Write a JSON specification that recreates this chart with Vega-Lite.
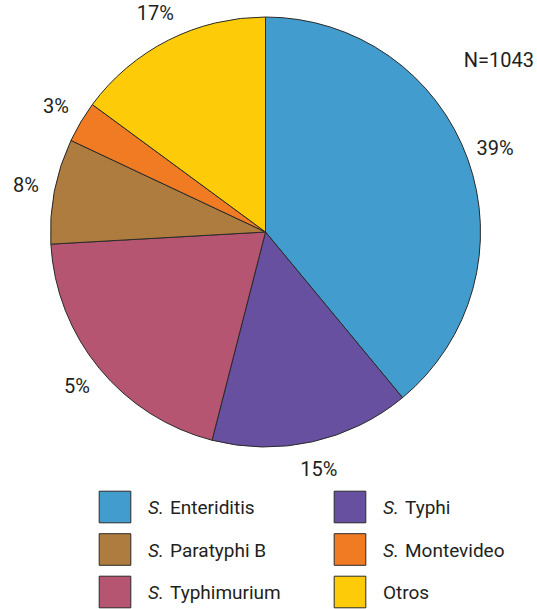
{
  "$schema": "https://vega.github.io/schema/vega-lite/v6.json",
  "padding": 0,
  "background": "white",
  "config": {
    "view": {"stroke": null},
    "font": "Roboto"
  },
  "datasets": {
    "slices": [
      {"cat": "S. Enteriditis", "pre": "S.", "name": "Enteriditis", "value": 39, "label": "39%", "order": 1},
      {"cat": "S. Typhi", "pre": "S.", "name": "Typhi", "value": 15, "label": "15%", "order": 2},
      {"cat": "S. Typhimurium", "pre": "S.", "name": "Typhimurium", "value": 20.1, "label": "5%", "order": 3},
      {"cat": "S. Paratyphi B", "pre": "S.", "name": "Paratyphi B", "value": 7.9, "label": "8%", "order": 4},
      {"cat": "S. Montevideo", "pre": "S.", "name": "Montevideo", "value": 3.1, "label": "3%", "order": 5},
      {"cat": "Otros", "pre": "", "name": "Otros", "value": 14.9, "label": "17%", "order": 6}
    ],
    "legend": [
      {"cat": "S. Enteriditis", "pre": "S.", "name": "Enteriditis", "lorder": 1},
      {"cat": "S. Typhi", "pre": "S.", "name": "Typhi", "lorder": 2},
      {"cat": "S. Paratyphi B", "pre": "S.", "name": "Paratyphi B", "lorder": 3},
      {"cat": "S. Montevideo", "pre": "S.", "name": "Montevideo", "lorder": 4},
      {"cat": "S. Typhimurium", "pre": "S.", "name": "Typhimurium", "lorder": 5},
      {"cat": "Otros", "pre": "", "name": "Otros", "lorder": 6}
    ]
  },
  "bounds": "flush",
  "spacing": 21.75,
  "vconcat": [
    {
      "width": 531,
      "height": 464,
      "title": {"text": "N=1043", "anchor": "end", "orient": "top", "fontSize": 20, "fontWeight": "normal", "font": "Roboto", "color": "#231F20", "baseline": "alphabetic", "offset": 0, "dy": 87, "dx": 3},
      "data": {"name": "slices"},
      "encoding": {
        "theta": {"field": "value", "type": "quantitative", "stack": true},
        "order": {"field": "order", "type": "quantitative"}
      },
      "layer": [
        {
          "mark": {"type": "arc", "outerRadius": 215, "stroke": "#2a2a2a", "strokeWidth": 1},
          "encoding": {
            "color": {"field": "cat", "type": "nominal", "legend": null,
              "scale": {"domain": ["S. Enteriditis", "S. Typhi", "S. Typhimurium", "S. Paratyphi B", "S. Montevideo", "Otros"],
                        "range": ["#429CCD", "#6750A0", "#B55571", "#AE7C3E", "#F07B22", "#FECB08"]}}
          }
        },
        {
          "mark": {"type": "text", "radius": 244, "fontSize": 20, "font": "Roboto", "color": "#231F20"},
          "encoding": {"text": {"field": "label"}}
        }
      ]
    },
    {
      "data": {"name": "legend"},
      "width": 465,
      "height": 127.5,
      "transform": [
        {"calculate": "(datum.lorder - 1) % 2", "as": "col"},
        {"calculate": "floor((datum.lorder - 1) / 2)", "as": "row"}
      ],
      "encoding": {
        "x": {"field": "col", "type": "ordinal", "axis": null, "scale": {"type": "point", "padding": 0.4894}},
        "y": {"field": "row", "type": "ordinal", "axis": null, "scale": {"type": "point", "padding": 0.5}}
      },
      "layer": [
        {
          "mark": {"type": "point", "shape": "square", "size": 1000, "filled": true, "stroke": "#2a2a2a", "strokeWidth": 1, "opacity": 1},
          "encoding": {
            "color": {"field": "cat", "type": "nominal", "legend": null,
              "scale": {"domain": ["S. Enteriditis", "S. Typhi", "S. Typhimurium", "S. Paratyphi B", "S. Montevideo", "Otros"],
                        "range": ["#429CCD", "#6750A0", "#B55571", "#AE7C3E", "#F07B22", "#FECB08"]}}
          }
        },
        {
          "transform": [{"filter": "datum.pre != ''"}],
          "mark": {"type": "text", "align": "left", "baseline": "middle", "dx": 33, "dy": 1, "fontSize": 19, "fontStyle": "italic", "font": "Roboto", "color": "#231F20"},
          "encoding": {"text": {"field": "pre"}}
        },
        {
          "transform": [{"filter": "datum.pre != ''"}],
          "mark": {"type": "text", "align": "left", "baseline": "middle", "dx": 55, "dy": 1, "fontSize": 19, "font": "Roboto", "color": "#231F20"},
          "encoding": {"text": {"field": "name"}}
        },
        {
          "transform": [{"filter": "datum.pre == ''"}],
          "mark": {"type": "text", "align": "left", "baseline": "middle", "dx": 33, "dy": 1, "fontSize": 19, "font": "Roboto", "color": "#231F20"},
          "encoding": {"text": {"field": "name"}}
        }
      ]
    }
  ]
}
